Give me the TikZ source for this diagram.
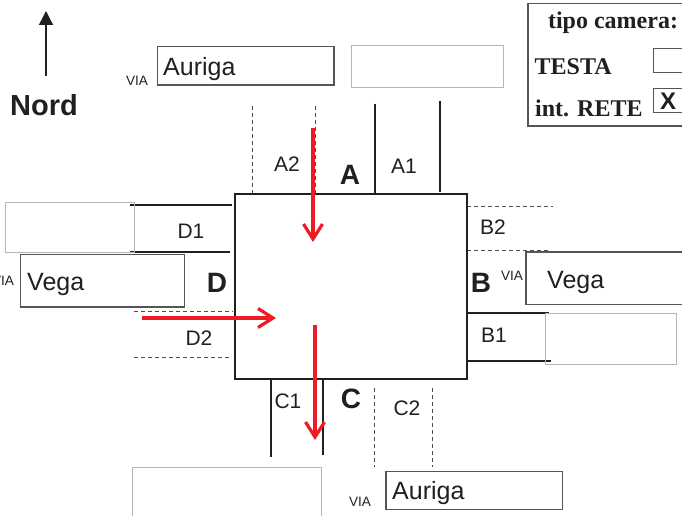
\documentclass[tikz,border=0pt]{standalone}
\usepackage{fontspec}
\setmainfont{Liberation Sans}
\newfontfamily\serifb{Liberation Serif}[BoldFont={Liberation Serif Bold}]
\definecolor{inkc}{HTML}{231F20}
\definecolor{redc}{HTML}{ED1C24}
\definecolor{edgec}{HTML}{555555}
\definecolor{paleb}{HTML}{B5B5B5}
\usetikzlibrary{arrows.meta}
\tikzset{
  solidln/.style={draw=inkc,line width=1.6pt},
  dashln/.style={draw=inkc!80,line width=0.8pt,dash pattern=on 4pt off 3pt},
  namebox/.style={draw=edgec,line width=1.1pt},
  blankbox/.style={draw=paleb,line width=0.8pt},
  redarrow/.style={draw=redc,line width=3.2pt,-{Straight Barb[length=15pt,width=19pt]}},
  lbl/.style={inner sep=0,text=inkc,font=\fontsize{21}{21}\selectfont},
  side/.style={inner sep=0,text=inkc,font=\fontsize{28}{28}\selectfont\bfseries},
  via/.style={inner sep=0,text=inkc,font=\fontsize{13.6}{14}\selectfont},
  street/.style={inner sep=0,anchor=base west,text=inkc,font=\fontsize{25}{25}\selectfont},
  legendt/.style={inner sep=0,text=inkc,font=\serifb\fontsize{24}{24}\selectfont\bfseries}
}
\begin{document}
\begin{tikzpicture}[x=1pt,y=-1pt]
\useasboundingbox (0,0) rectangle (682,516);
\clip (0,0) rectangle (682,516);
\fill[white] (0,0) rectangle (682,516);
% connectors
\draw[solidln] (375,104) -- (375,194);
\draw[solidln] (440,101) -- (440,192);
\draw[dashln] (252,106) -- (252,193);
\draw[dashln] (315,106) -- (315,194);
\draw[solidln] (130,205) -- (232,205);
\draw[solidln] (130,252) -- (230,252);
\draw[dashln] (134,311) -- (233,311);
\draw[dashln] (134,357) -- (231,357);
\draw[dashln] (467,206.5) -- (553,206.5);
\draw[dashln] (467,250) -- (548,250);
\draw[solidln] (467,313) -- (549,313);
\draw[solidln] (467,361) -- (551,361);
\draw[solidln] (271,379) -- (271,457);
\draw[solidln] (323,379) -- (323,455);
\draw[dashln] (374.5,388) -- (374.5,467);
\draw[dashln] (432,388) -- (432,467);
% main box
\draw[draw=inkc,line width=2pt] (234.5,194) rectangle (467,379);
% street boxes
\draw[namebox] (157.5,46.5) rectangle (334,85);
\draw[namebox] (20.5,254.5) rectangle (184.5,307);
\draw[namebox] (526,252) rectangle (690,304.5);
\draw[namebox] (386,471.5) rectangle (562.5,509.5);
\draw[blankbox] (351,45) rectangle (503.5,87);
\draw[blankbox] (5.5,202.5) rectangle (134.5,252.5);
\draw[blankbox] (545.5,313.5) rectangle (676,364);
\draw[blankbox] (132.5,467) rectangle (321,530);
% legend
\draw[draw=edgec,line width=1.1pt] (528,3.5) rectangle (690,126);
\draw[draw=edgec,line width=1pt] (653,48.5) rectangle (690,73);
\draw[draw=edgec,line width=1pt] (653,89) rectangle (690,113);
\node[legendt] (tipo) at (613,23) {tipo camera:};
\node[legendt,anchor=base west] (testa) at (534.5,75) {TESTA};
\node[legendt,anchor=base west] (rete) at (535,117) {int. RETE};
\node[inner sep=0,text=inkc,font=\fontsize{24}{24}\selectfont\bfseries] (xmark) at (668,101) {X};
% north
\coordinate (ntail) at (46,76);
\coordinate (nhead) at (46,11);
\draw[draw=inkc,line width=1.3pt,-{Triangle[length=14pt,width=14pt]}] (ntail) -- (nhead);
\node[inner sep=0,text=inkc,font=\fontsize{29}{29}\selectfont\bfseries] (nord) at (44,105) {Nord};
% labels
\node[lbl] (a2) at (287,164) {A2};
\node[lbl] (a1) at (404,166) {A1};
\node[lbl] (d1) at (191,231) {D1};
\node[lbl] (d2) at (199,338) {D2};
\node[lbl] (b2) at (493,227) {B2};
\node[lbl] (b1) at (494,335) {B1};
\node[lbl] (c1) at (288,401) {C1};
\node[lbl] (c2) at (407,408) {C2};
\node[side] (sa) at (350,175) {A};
\node[side] (sb) at (481,283) {B};
\node[side] (sc) at (351,399) {C};
\node[side] (sd) at (217,283) {D};
\node[via] (v1) at (137,81) {VIA};
\node[via] (v2) at (3,281) {VIA};
\node[via] (v3) at (512,276) {VIA};
\node[via] (v4) at (360,502) {VIA};
\node[street] (s1) at (163,75.5) {Auriga};
\node[street] (s2) at (27,290.5) {Vega};
\node[street] (s3) at (547,288.5) {Vega};
\node[street] (s4) at (392,499.5) {Auriga};
% red arrows
\coordinate (ra1) at (313,128); \coordinate (ra2) at (313,242);
\coordinate (rd1) at (142,318); \coordinate (rd2) at (276,318);
\coordinate (rc1) at (315,325); \coordinate (rc2) at (315,440);
\draw[redarrow] (ra1) -- (ra2);
\draw[redarrow] (rd1) -- (rd2);
\draw[redarrow] (rc1) -- (rc2);
\end{tikzpicture}
\end{document}
